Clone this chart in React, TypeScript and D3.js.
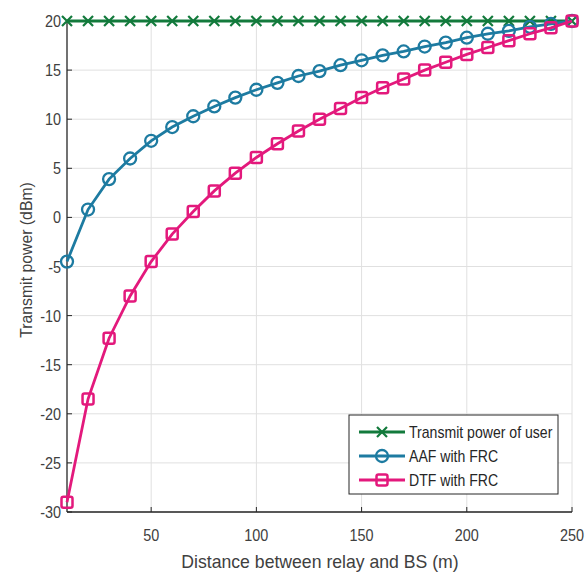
import React from "react";
import * as d3 from "d3";

// distance between relay and BS (m)
const distances = [10, 20, 30, 40, 50, 60, 70, 80, 90, 100, 110, 120, 130, 140, 150, 160, 170, 180, 190, 200, 210, 220, 230, 240, 250];
const userPower = [20, 20, 20, 20, 20, 20, 20, 20, 20, 20, 20, 20, 20, 20, 20, 20, 20, 20, 20, 20, 20, 20, 20, 20, 20];
const aafPower = [-4.5, 0.8, 3.9, 6.0, 7.8, 9.2, 10.3, 11.3, 12.2, 13.0, 13.7, 14.4, 14.9, 15.5, 16.0, 16.5, 16.9, 17.4, 17.8, 18.3, 18.7, 19.0, 19.4, 19.7, 20.0];
const dtfPower = [-29, -18.5, -12.3, -8.0, -4.5, -1.7, 0.6, 2.7, 4.5, 6.1, 7.5, 8.8, 10.0, 11.1, 12.2, 13.2, 14.1, 15.0, 15.8, 16.6, 17.3, 18.0, 18.7, 19.3, 20.0];
const xTicks = [50, 100, 150, 200, 250];
const yTicks = [-30, -25, -20, -15, -10, -5, 0, 5, 10, 15, 20];
const seriesNames = ["Transmit power of user", "AAF with FRC", "DTF with FRC"];
const seriesColors = ["#137a3c", "#1d7ba1", "#e3197c"];

const W = 586, H = 573;
const m = { left: 67, right: 14, top: 21, bottom: 61 };

function Marker({ kind, x, y, color }: { kind: number; x: number; y: number; color: string }) {
  if (kind === 0) {
    const s = 5;
    return <path d={`M${x - s},${y - s}L${x + s},${y + s}M${x - s},${y + s}L${x + s},${y - s}`} stroke={color} strokeWidth={2.2} />;
  }
  if (kind === 1) return <circle cx={x} cy={y} r={6} fill="none" stroke={color} strokeWidth={2.3} />;
  return <rect x={x - 5.5} y={y - 5.5} width={11} height={11} rx={2} fill="none" stroke={color} strokeWidth={2.5} />;
}

// text squeezed a bit horizontally, like the narrow font of the original
function T({ x, y, sx = 0.9, rot = 0, anchor = "start", size, children, fill = "#404040" }: any) {
  return (
    <g transform={`translate(${x},${y}) rotate(${rot}) scale(${sx},1)`}>
      <text textAnchor={anchor} fontSize={size} fill={fill}>{children}</text>
    </g>
  );
}

export default function App() {
  const x = d3.scaleLinear().domain([10, 250]).range([m.left, W - m.right]);
  const y = d3.scaleLinear().domain([-30, 20]).range([H - m.bottom, m.top]);
  const line = d3.line<number>().x((_, i) => x(distances[i])).y((d) => y(d));
  const series = [userPower, aafPower, dtfPower];
  const font = "'Liberation Sans', Arial, sans-serif";

  const lg = { x: 349, y: 415, w: 209, h: 79 };

  return (
    <svg width={W} height={H} style={{ position: "absolute", left: 0, top: 0, background: "#fff" }} fontFamily={font}>
      {/* grid */}
      {xTicks.map((t) => (
        <line key={"gx" + t} x1={x(t)} x2={x(t)} y1={y(-30)} y2={y(20)} stroke="#e0e0e0" strokeWidth={1} />
      ))}
      {yTicks.map((t) => (
        <line key={"gy" + t} x1={x(10)} x2={x(250)} y1={y(t)} y2={y(t)} stroke="#e0e0e0" strokeWidth={1} />
      ))}
      {/* axes */}
      <line x1={x(10)} x2={x(250)} y1={y(-30)} y2={y(-30)} stroke="#262626" strokeWidth={1.3} />
      <line x1={x(10)} x2={x(10)} y1={y(-30)} y2={y(20)} stroke="#262626" strokeWidth={1.3} />
      {xTicks.map((t) => (
        <g key={"tx" + t}>
          <line x1={x(t)} x2={x(t)} y1={y(-30)} y2={y(-30) - 5} stroke="#262626" />
          <T x={x(t)} y={y(-30) + 29} anchor="middle" size={16}>{t}</T>
        </g>
      ))}
      {yTicks.map((t) => (
        <g key={"ty" + t}>
          <line x1={x(10)} x2={x(10) + 5} y1={y(t)} y2={y(t)} stroke="#262626" />
          <T x={x(10) - 6} y={y(t) + 6} anchor="end" size={16}>{t}</T>
        </g>
      ))}
      {/* series */}
      {series.map((s, k) => (
        <g key={"s" + k}>
          <path d={line(s) ?? ""} fill="none" stroke={seriesColors[k]} strokeWidth={2.8} />
          {s.map((v, i) => (
            <Marker key={i} kind={k} x={x(distances[i])} y={y(v)} color={seriesColors[k]} />
          ))}
        </g>
      ))}
      {/* labels */}
      <T x={320} y={568} anchor="middle" size={18} sx={0.98}>Distance between relay and BS (m)</T>
      <T x={32} y={260} rot={-90} anchor="middle" size={17} sx={0.93}>Transmit power (dBm)</T>
      {/* legend */}
      <rect x={lg.x} y={lg.y} width={lg.w} height={lg.h} fill="#fff" stroke="#262626" strokeWidth={1} />
      {seriesNames.map((n, k) => {
        const cy = lg.y + 17 + k * 24;
        return (
          <g key={"l" + k}>
            <line x1={lg.x + 10} x2={lg.x + 56} y1={cy} y2={cy} stroke={seriesColors[k]} strokeWidth={2.8} />
            <Marker kind={k} x={lg.x + 33} y={cy} color={seriesColors[k]} />
            <T x={lg.x + 60} y={cy + 5.5} size={16} sx={0.88} fill="#262626">{n}</T>
          </g>
        );
      })}
    </svg>
  );
}
